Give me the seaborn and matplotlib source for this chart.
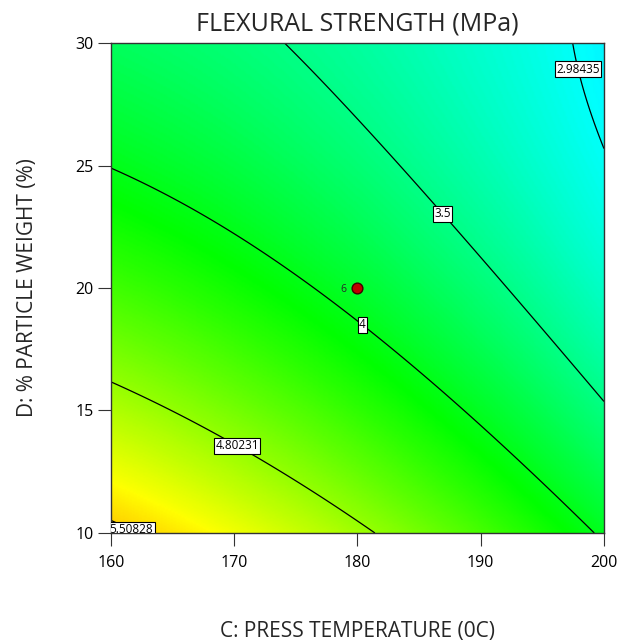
import numpy as np
import pandas as pd
import matplotlib
matplotlib.use("Agg")
import matplotlib.pyplot as plt
from matplotlib.colors import LinearSegmentedColormap
import seaborn as sns

# Quadratic response-surface model (coded factors)
model_terms = ["intercept", "C", "D", "CD", "C2", "D2"]
model_coef = [3.8971, -0.5994, -0.7337, 0.2099, -0.0895, 0.2292]

# Factor ranges
temp_range = [160, 200]          # C: press temperature
weight_range = [10, 30]          # D: % particle weight

# Contour levels and labels shown
contour_levels = [2.98435, 3.5, 4, 4.80231, 5.50828]
label_positions = [(198.5, 29.0), (187.1, 23.1), (180.4, 18.5), (170.5, 13.8), (161.9, 10.4)]

# Design point
design_C = [180]
design_D = [20]
design_reps = ["6"]

title = "FLEXURAL STRENGTH (MPa)"
xlabel = "C: PRESS TEMPERATURE (0C)"
ylabel = "D: % PARTICLE WEIGHT (%)"
xticks = [160, 170, 180, 190, 200]
yticks = [10, 15, 20, 25, 30]

sns.set_theme(style="ticks")
plt.rcParams["font.family"] = ["Open Sans", "DejaVu Sans"]

cgrid = np.linspace(temp_range[0], temp_range[1], 300)
dgrid = np.linspace(weight_range[0], weight_range[1], 300)
CC, DD = np.meshgrid(cgrid, dgrid)
xc = (CC - 180) / 20
yc = (DD - 20) / 10
b = dict(zip(model_terms, model_coef))
Z = (b["intercept"] + b["C"] * xc + b["D"] * yc + b["CD"] * xc * yc
     + b["C2"] * xc**2 + b["D2"] * yc**2)

cmap = LinearSegmentedColormap.from_list(
    "de", [(0.0, "#0000ff"), (0.245, "#00ffff"), (0.49, "#00ff00"),
           (0.745, "#ffff00"), (1.0, "#ff0000")])
vmin, vmax = 1.8, 6.5

fig = plt.figure(figsize=(6.18, 6.42), dpi=100)
ax = fig.add_axes([0.1796, 0.1698, 0.7977, 0.7632])
ax.pcolormesh(CC, DD, Z, cmap=cmap, vmin=vmin, vmax=vmax, shading="gouraud", rasterized=True)
cs = ax.contour(CC, DD, Z, levels=contour_levels, colors="black", linewidths=0.9)
fmt = {lv: (f"{lv:g}") for lv in contour_levels}
labels = ax.clabel(cs, levels=contour_levels, fmt=fmt, inline=False, fontsize=8.5,
                   manual=label_positions, colors="black")
for t in labels:
    t.set_bbox(dict(boxstyle="square,pad=0.12", fc="white", ec="black", lw=0.8))
    t.set_rotation(0)

pts = pd.DataFrame({"C": design_C, "D": design_D, "n": design_reps})
sns.scatterplot(data=pts, x="C", y="D", ax=ax, color="#c00000", edgecolor="#400000",
                s=60, linewidth=1.0, zorder=5, legend=False)
for _, r in pts.iterrows():
    ax.annotate(r["n"], (r["C"], r["D"]), xytext=(-8, -1), textcoords="offset points",
                ha="right", va="center", fontsize=7.5)

ax.set_xlim(temp_range)
ax.set_ylim(weight_range)
ax.set_xticks(xticks)
ax.set_yticks(yticks)
ax.tick_params(direction="out", length=9.5, width=0.8, colors="#333333", labelsize=11.5,
               labelcolor="black")
ax.tick_params(axis="x", pad=6)
ax.tick_params(axis="y", pad=3)
for s in ax.spines.values():
    s.set_linewidth(1.0)
    s.set_color("#333333")
ax.set_title(title, fontsize=18, pad=9)
ax.set_xlabel(xlabel, fontsize=15, labelpad=36)
ax.set_ylabel(ylabel, fontsize=15, labelpad=27)

fig.savefig("out.png", dpi=100)
